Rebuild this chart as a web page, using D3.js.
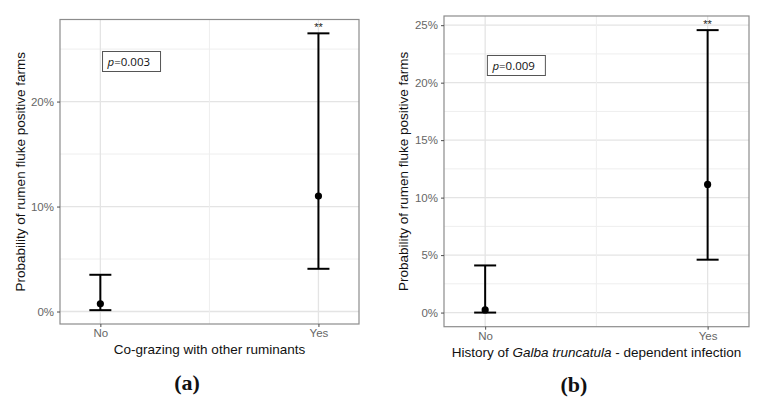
<!DOCTYPE html>
<html><head><meta charset="utf-8">
<script src="https://cdn.jsdelivr.net/npm/d3@7"></script>
<style>body{margin:0;background:#fff}svg{display:block;font-family:"Liberation Sans",Arial,sans-serif}</style>
</head><body>
<svg id="c" width="763" height="406"></svg>
<script>
const categories = ["No", "Yes"];
// Panel (a): Co-grazing with other ruminants (percent)
const estA = [0.73, 11.0];
const lowA = [0.13, 4.07];
const highA = [3.5, 26.5];
const ticksA = [0, 10, 20];
const minorA = [5, 15, 25];
const pA = "0.003";
// Panel (b): History of Galba truncatula - dependent infection (percent)
const estB = [0.23, 11.15];
const lowB = [0.0, 4.6];
const highB = [4.1, 24.57];
const ticksB = [0, 5, 10, 15, 20, 25];
const minorB = [2.5, 7.5, 12.5, 17.5, 22.5];
const pB = "0.009";
const sigLabel = "**";

const svg = d3.select("#c");
const SANS = "Liberation Sans, Arial, sans-serif";

function panel(o) {
  const g = svg.append("g");
  const lo = d3.min(o.low), hi = d3.max(o.high), r = hi - lo;
  const y = d3.scaleLinear().domain([lo - 0.05 * r, hi + 0.05 * r]).range([o.bottom, o.top]);
  const x = d3.scaleLinear().domain([0.815, 2.186]).range([o.left, o.right]);
  const xc = i => x(i + 1);
  // grid
  g.selectAll(".mn").data(o.minor).join("line")
    .attr("x1", o.left).attr("x2", o.right).attr("y1", d => y(d)).attr("y2", d => y(d))
    .attr("stroke", "#eeeeee").attr("stroke-width", 1);
  g.selectAll(".mj").data(o.ticks).join("line")
    .attr("x1", o.left).attr("x2", o.right).attr("y1", d => y(d)).attr("y2", d => y(d))
    .attr("stroke", "#e4e4e4").attr("stroke-width", 1.3);
  g.append("line").attr("x1", x(1.5)).attr("x2", x(1.5)).attr("y1", o.top).attr("y2", o.bottom)
    .attr("stroke", "#eeeeee").attr("stroke-width", 1);
  g.selectAll(".vx").data(categories).join("line")
    .attr("x1", (d, i) => xc(i)).attr("x2", (d, i) => xc(i)).attr("y1", o.top).attr("y2", o.bottom)
    .attr("stroke", "#e4e4e4").attr("stroke-width", 1.3);
  // border
  g.append("rect").attr("x", o.left).attr("y", o.top).attr("width", o.right - o.left).attr("height", o.bottom - o.top)
    .attr("fill", "none").attr("stroke", "#8c8c8c").attr("stroke-width", 1.2);
  // y axis
  const ya = g.append("g").attr("transform", `translate(${o.left},0)`)
    .call(d3.axisLeft(y).tickValues(o.ticks).tickFormat(d => d + "%").tickSize(3).tickPadding(3));
  ya.select(".domain").remove();
  ya.selectAll(".tick line").attr("stroke", "#4d4d4d");
  ya.selectAll(".tick text").attr("fill", "#666").attr("font-size", 11.5).attr("font-family", SANS);
  // x axis
  const xa = g.append("g").attr("transform", `translate(0,${o.bottom})`)
    .call(d3.axisBottom(x).tickValues([1, 2]).tickFormat(d => categories[d - 1]).tickSize(3).tickPadding(2));
  xa.select(".domain").remove();
  xa.selectAll(".tick line").attr("stroke", "#4d4d4d");
  xa.selectAll(".tick text").attr("fill", "#666").attr("font-size", 11.5).attr("font-family", SANS);
  // error bars
  const cap = 11;
  const eb = g.selectAll(".eb").data(categories).join("g");
  eb.append("line").attr("x1", (d, i) => xc(i)).attr("x2", (d, i) => xc(i))
    .attr("y1", (d, i) => y(o.low[i])).attr("y2", (d, i) => y(o.high[i])).attr("stroke", "#000").attr("stroke-width", 2);
  eb.append("line").attr("x1", (d, i) => xc(i) - cap).attr("x2", (d, i) => xc(i) + cap)
    .attr("y1", (d, i) => y(o.low[i])).attr("y2", (d, i) => y(o.low[i])).attr("stroke", "#000").attr("stroke-width", 2);
  eb.append("line").attr("x1", (d, i) => xc(i) - cap).attr("x2", (d, i) => xc(i) + cap)
    .attr("y1", (d, i) => y(o.high[i])).attr("y2", (d, i) => y(o.high[i])).attr("stroke", "#000").attr("stroke-width", 2);
  eb.append("circle").attr("cx", (d, i) => xc(i)).attr("cy", (d, i) => y(o.est[i])).attr("r", 3.6).attr("fill", "#000");
  // significance
  g.append("text").attr("x", xc(1)).attr("y", y(o.high[1]) - 2).attr("text-anchor", "middle")
    .attr("font-size", 11).attr("fill", "#222").text(sigLabel);
  // p box
  const bx = x(1.01), by = o.pboxY;
  g.append("rect").attr("x", bx).attr("y", by).attr("width", 58).attr("height", 20)
    .attr("fill", "#fff").attr("stroke", "#555").attr("stroke-width", 1);
  const pt = g.append("text").attr("x", bx + 5).attr("y", by + 14).attr("font-size", 11.5).attr("fill", "#111")
    .attr("font-family", "Open Sans, sans-serif");
  pt.append("tspan").attr("font-style", "italic").text("p");
  pt.append("tspan").text("=" + o.p);
  // titles
  g.append("text").attr("transform", `translate(${o.ytX},${(o.top + o.bottom) / 2}) rotate(-90)`)
    .attr("text-anchor", "middle").attr("font-size", 13.5).attr("fill", "#111").attr("font-family", SANS)
    .text("Probability of rumen fluke positive farms");
  const xt = g.append("text").attr("x", (o.left + o.right) / 2).attr("y", o.xtY).attr("text-anchor", "middle")
    .attr("font-size", 13.5).attr("fill", "#111").attr("font-family", SANS);
  o.xtitle.forEach(s => { const t = xt.append("tspan").text(s[0]); if (s[1]) t.attr("font-style", "italic"); });
  svg.append("text").attr("x", o.labX).attr("y", o.labY).attr("text-anchor", "middle")
    .attr("font-family", "Liberation Serif, serif").attr("font-size", 22).attr("font-weight", "bold").attr("fill", "#111")
    .text(o.label);
}

panel({left: 60, right: 359, top: 19.5, bottom: 324, est: estA, low: lowA, high: highA, ticks: ticksA, minor: minorA,
  p: pA, pboxY: 51.5, ytX: 25, xtY: 354, xtitle: [["Co-grazing with other ruminants"]], label: "(a)", labX: 187, labY: 390});
panel({left: 444, right: 749, top: 16, bottom: 326.7, est: estB, low: lowB, high: highB, ticks: ticksB, minor: minorB,
  p: pB, pboxY: 55.5, ytX: 408, xtY: 357, xtitle: [["History of "], ["Galba truncatula", true], [" - dependent infection"]], label: "(b)", labX: 574, labY: 392});
</script>
</body></html>
